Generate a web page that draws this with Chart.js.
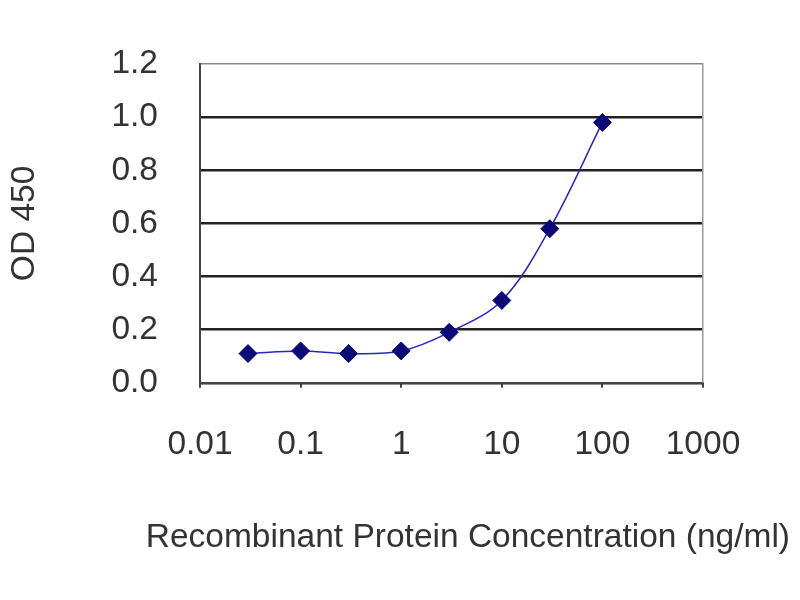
<!DOCTYPE html>
<html>
<head>
<meta charset="utf-8">
<script src="https://cdn.jsdelivr.net/npm/chart.js@4"></script>
<style>
  html, body { margin: 0; padding: 0; background: #fff; }
  #wrap { width: 800px; height: 600px; }
</style>
</head>
<body>
<div id="wrap"><canvas id="myChart" width="800" height="600"></canvas></div>
<script>
// values
const concentrations = [0.03, 0.1, 0.3, 1, 3, 10, 30, 100];
const od450 = [0.11, 0.12, 0.11, 0.12, 0.19, 0.31, 0.58, 0.98];
const xTickValues = [0.01, 0.1, 1, 10, 100, 1000];
const xTickLabels = ['0.01', '0.1', '1', '10', '100', '1000'];
const yTickValues = [0, 0.2, 0.4, 0.6, 0.8, 1.0, 1.2];

const points = [];
for (let i = 0; i < concentrations.length; i++) {
  points.push({x: concentrations[i], y: od450[i]});
}

const textColor = '#333';
const font = {family: '"Liberation Sans", Arial, sans-serif', size: 33.5, weight: 'normal', lineHeight: 1.2};

new Chart(document.getElementById('myChart'), {
  type: 'line',
  data: {
    datasets: [{
      label: 'OD 450',
      data: points,
      borderColor: '#2828b8',
      borderWidth: 1.5,
      tension: 0.35,
      pointStyle: 'rectRot',
      pointRadius: 9,
      pointBackgroundColor: '#0a0a78',
      pointBorderColor: '#0a0a78',
      pointBorderWidth: 1
    }]
  },
  options: {
    responsive: false,
    animation: false,
    layout: {padding: {top: 64, right: 10, bottom: 0, left: 5}},
    plugins: {
      legend: {display: false},
      tooltip: {enabled: false},
      title: {
        display: true,
        position: 'bottom',
        align: 'end',
        text: 'Recombinant Protein Concentration (ng/ml)',
        color: textColor,
        font: font,
        padding: {top: 0, bottom: 42}
      }
    },
    scales: {
      x: {
        type: 'logarithmic',
        min: 0.01,
        max: 1000,
        afterBuildTicks: function(scale) {
          scale.ticks = xTickValues.map(v => ({value: v}));
        },
        afterFit: function(scale) { scale.height = 135; },
        ticks: {
          color: textColor,
          font: font,
          padding: 37,
          maxRotation: 0,
          autoSkip: false,
          callback: function(value) {
            const i = xTickValues.indexOf(value);
            return i >= 0 ? xTickLabels[i] : '';
          }
        },
        grid: {drawOnChartArea: false, drawTicks: true, tickLength: 5, color: '#444', lineWidth: 2},
        border: {color: '#444', width: 2}
      },
      y: {
        min: 0,
        max: 1.2,
        afterBuildTicks: function(scale) {
          scale.ticks = yTickValues.map(v => ({value: v}));
        },
        afterFit: function(scale) { scale.width = 195; },
        ticks: {
          color: textColor,
          font: font,
          padding: 42,
          callback: function(value) { return value.toFixed(1); }
        },
        grid: {
          drawTicks: false,
          color: function(c) { return c.tick.value === 1.2 ? '#888' : '#222'; },
          lineWidth: function(c) { return c.tick.value === 1.2 ? 1.5 : 2.5; }
        },
        border: {color: '#444', width: 2},
        title: {
          display: true,
          text: 'OD 450',
          color: textColor,
          font: font,
          padding: 0
        }
      },
      yRight: {
        position: 'right',
        min: 0,
        max: 1.2,
        afterFit: function(scale) { scale.width = 87; },
        ticks: {display: false},
        grid: {display: false},
        border: {color: '#999', width: 1.5}
      }
    }
  }
});
</script>
</body>
</html>
